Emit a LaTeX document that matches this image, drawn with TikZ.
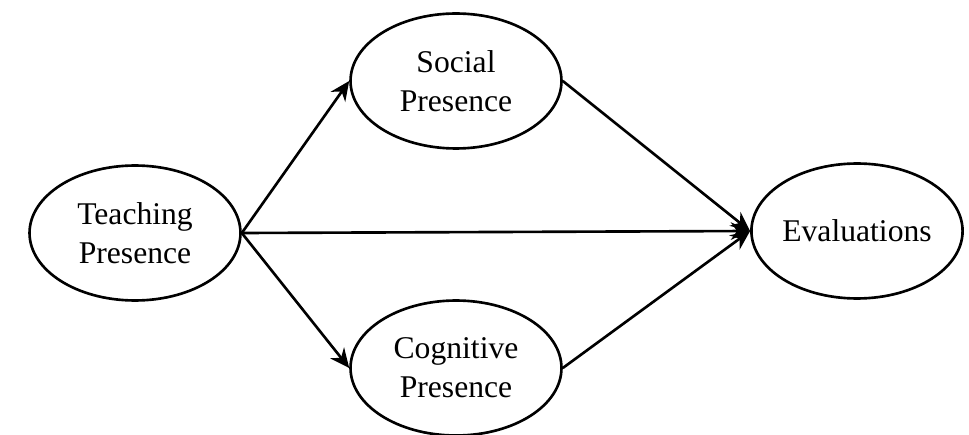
\documentclass[tikz,border=0pt]{standalone}
\usepackage{fontspec}
\setmainfont{Liberation Serif}
\usetikzlibrary{shapes.geometric, arrows.meta}
\tikzset{
  construct/.style={ellipse, draw=black, line width=1.5pt, fill=white,
    minimum width=4.22cm, minimum height=2.7cm, inner sep=0pt,
    align=center, font=\fontsize{18}{22}\selectfont},
  link/.style={-{Stealth[length=11pt, width=10pt]}, line width=1.5pt},
}

\begin{document}
\begin{tikzpicture}[x=0.02cm, y=-0.02cm]
  \useasboundingbox (0,0) rectangle (969,435);
  \node[construct] (teach) at (135,233) {Teaching\\Presence};
  \node[construct] (social) at (456,81) {Social\\Presence};
  \node[construct] (cogn) at (456,368) {Cognitive\\Presence};
  \node[construct] (eval) at (857,231) {Evaluations};
  % paths into the outcome all meet at its west point
  \draw[link] (teach.east) -- (social.west);
  \draw[link] (teach.east) -- (cogn.west);
  \draw[link] (teach.east) -- (eval.west);
  \draw[link] (social.east) -- (eval.west);
  \draw[link] (cogn.east) -- (eval.west);
\end{tikzpicture}
\end{document}
